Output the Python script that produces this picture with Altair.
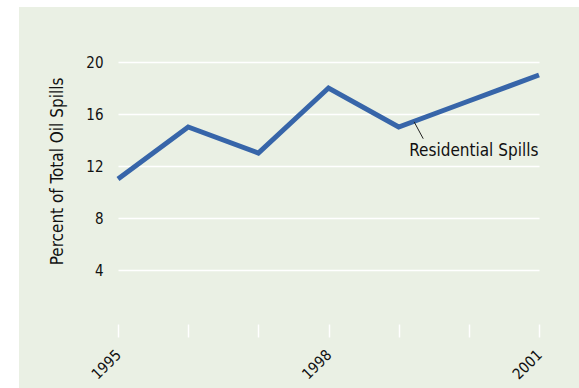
import altair as alt
import pandas as pd

years = [1995, 1996, 1997, 1998, 1999, 2000, 2001]
percent = [11, 15, 13, 18, 15, 17, 19]
y_ticks = [4, 8, 12, 16, 20]
x_labels = [1995, 1998, 2001]

series_label = "Residential Spills"
# annotation anchors in data units
lead_from = (1999.22, 15.4)
lead_to = (1999.35, 14.1)
label_at = (1999.15, 12.75)

df = pd.DataFrame({"year": years, "pct": percent})

BG = "#eaf0e4"
LINE = "#3765a9"
FONT = "DejaVu Sans Condensed, Liberation Sans"
TXT = "#111111"

xscale = alt.Scale(domain=[1995, 2001], nice=False, zero=False)
yscale = alt.Scale(domain=[0, 20], nice=False)

one = pd.DataFrame({"a": [0]})
strip_left = alt.Chart(one).mark_rect(color="white").encode(
    x=alt.value(-120), x2=alt.value(-99), y=alt.value(-64), y2=alt.value(330)
)
strip_top = alt.Chart(one).mark_rect(color="white").encode(
    x=alt.value(-120), x2=alt.value(465), y=alt.value(-64), y2=alt.value(-55)
)

label_expr = "indexof([" + ",".join(str(v) for v in x_labels) + "], datum.value) >= 0 ? datum.label : ''"

line = alt.Chart(df).mark_line(color=LINE, strokeWidth=5, strokeJoin="miter").encode(
    x=alt.X(
        "year:Q",
        scale=xscale,
        axis=alt.Axis(
            values=years,
            format="d",
            labelExpr=label_expr,
            title=None,
            domain=False,
            grid=False,
            ticks=True,
            tickColor="white",
            tickWidth=1.5,
            tickSize=13,
            offset=2,
            labelAngle=-45,
            labelAlign="right",
            labelBaseline="middle",
            labelPadding=15,
            labelFont=FONT,
            labelFontSize=15,
            labelColor=TXT,
        ),
    ),
    y=alt.Y(
        "pct:Q",
        scale=yscale,
        axis=alt.Axis(
            values=y_ticks,
            title="Percent of Total Oil Spills",
            domain=False,
            ticks=False,
            grid=True,
            gridColor="white",
            gridWidth=1.5,
            labelPadding=15,
            labelFont=FONT,
            labelFontSize=15,
            labelColor=TXT,
            titleFont=FONT,
            titleFontSize=17,
            titleFontWeight="normal",
            titleColor=TXT,
            titleAngle=-90,
            titleAlign="center",
            titleBaseline="middle",
            titleX=-61,
            titleY=109,
        ),
    ),
)

lead_df = pd.DataFrame({"x": [lead_from[0]], "y": [lead_from[1]], "x2": [lead_to[0]], "y2": [lead_to[1]]})
leader = alt.Chart(lead_df).mark_rule(color="#222222", strokeWidth=1).encode(
    x=alt.X("x:Q", scale=xscale), y=alt.Y("y:Q", scale=yscale),
    x2="x2:Q", y2="y2:Q",
)

lab_df = pd.DataFrame({"x": [label_at[0]], "y": [label_at[1]], "t": [series_label]})
label = alt.Chart(lab_df).mark_text(
    align="left", baseline="alphabetic", font=FONT,
    fontSize=17, fontWeight="normal", color=TXT,
).encode(x=alt.X("x:Q", scale=xscale), y=alt.Y("y:Q", scale=yscale), text="t:N")

chart = alt.layer(line, leader, label, strip_left, strip_top).properties(
    width=421, height=260,
    autosize=alt.AutoSizeParams(type="none"),
    padding={"left": 118, "top": 62, "right": 40, "bottom": 66},
    background=BG,
).configure_view(stroke=None)

chart.save("out.html", embed_options={"renderer": "svg", "actions": False})
